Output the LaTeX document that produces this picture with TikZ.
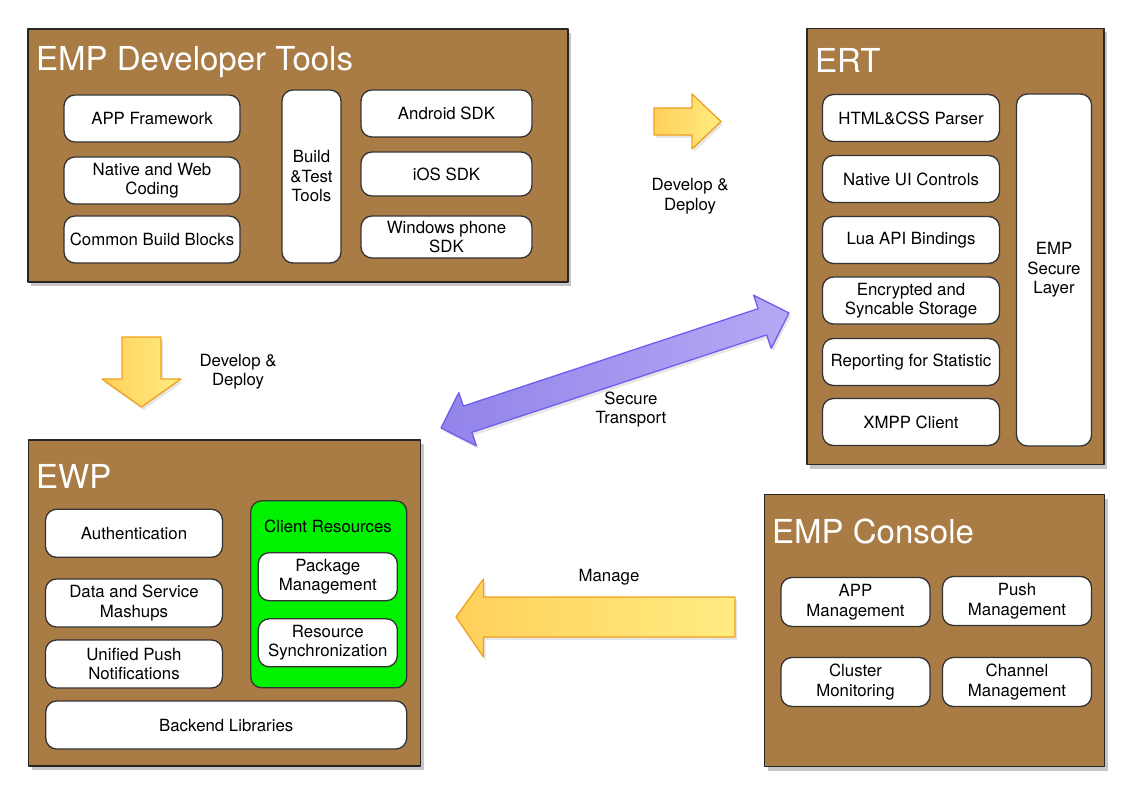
\documentclass[tikz,border=0pt]{standalone}
\usepackage{fontspec}
\setmainfont{TeX Gyre Heros}
\usepackage{tikz}
\usepackage{xcolor}
\usetikzlibrary{shadows}
\definecolor{panelbrown}{RGB}{169,123,69}
\definecolor{clientgreen}{RGB}{0,242,0}
\definecolor{arroworange}{RGB}{240,160,32}
\definecolor{arrowdeep}{RGB}{255,208,90}
\definecolor{arrowpale}{RGB}{255,236,130}
\definecolor{transportline}{RGB}{110,94,240}
\definecolor{transportdeep}{RGB}{146,132,234}
\definecolor{transportpale}{RGB}{182,168,244}
\begin{document}
\begin{tikzpicture}[line cap=round,line join=round,x=1pt,y=-1pt,
        panel/.style={draw=black!85,line width=1.6pt,fill=panelbrown,drop shadow={shadow xshift=3pt,shadow yshift=-4pt,opacity=0.45}},
        item/.style={draw=black!80,line width=1.3pt,fill=white,rounded corners=11pt,align=center,inner sep=2pt,font=\fontsize{16.8}{19.5}\selectfont},
        title/.style={anchor=base west,text=white,inner sep=0pt,font=\fontsize{33}{38}\selectfont},
        caption/.style={align=center,inner sep=0pt,font=\fontsize{16.8}{19.5}\selectfont},
        yellowarrow/.style={draw=arroworange,line width=1.3pt,left color=arrowdeep,right color=arrowpale,drop shadow={shadow xshift=2pt,shadow yshift=-3pt,opacity=0.2}},
        purplearrow/.style={draw=transportline,line width=1.3pt,left color=transportdeep,right color=transportpale,drop shadow={shadow xshift=2pt,shadow yshift=-3pt,opacity=0.2}}]
                \useasboundingbox (0,0) rectangle (1131,799);
                \node[panel,minimum width=540pt,minimum height=253pt] (devtools) at (298,155.5) {};
                \node[title] (devtoolstitle) at (36,71) {EMP Developer Tools};
                \node[item,minimum width=176pt,minimum height=47pt] (appfw) at (152,118.5) {APP Framework};
                \node[item,minimum width=176pt,minimum height=47pt] (nativeweb) at (152,180.5) {Native and Web\\Coding};
                \node[item,minimum width=176pt,minimum height=47pt] (buildblocks) at (152,239.5) {Common Build Blocks};
                \node[item,minimum width=59pt,minimum height=173pt] (buildtest) at (311.5,176.5) {Build\\\&Test\\Tools};
                \node[item,minimum width=171pt,minimum height=47pt] (android) at (446.5,113.5) {Android SDK};
                \node[item,minimum width=171pt,minimum height=44pt] (ios) at (446.5,174) {iOS SDK};
                \node[item,minimum width=171pt,minimum height=42pt] (winphone) at (446.5,237) {Windows phone\\SDK};
                \node[panel,minimum width=297pt,minimum height=436pt] (ert) at (955.5,246.5) {};
                \node[title] (erttitle) at (815,72.5) {ERT};
                \node[item,minimum width=177pt,minimum height=47pt] (htmlcss) at (911,118) {HTML\&CSS Parser};
                \node[item,minimum width=177pt,minimum height=47pt] (nativeui) at (911,179) {Native UI Controls};
                \node[item,minimum width=177pt,minimum height=47pt] (luaapi) at (911,240) {Lua API Bindings};
                \node[item,minimum width=177pt,minimum height=47pt] (storage) at (911,300.5) {Encrypted and\\Syncable Storage};
                \node[item,minimum width=177pt,minimum height=47pt] (reporting) at (911,362) {Reporting for Statistic};
                \node[item,minimum width=177pt,minimum height=47pt] (xmpp) at (911,422) {XMPP Client};
                \node[item,minimum width=75pt,minimum height=352pt] (securelayer) at (1054,270) {EMP\\Secure\\Layer};
                \node[panel,minimum width=392pt,minimum height=326pt] (ewp) at (224.5,603) {};
                \node[title] (ewptitle) at (36,488) {EWP};
                \node[item,minimum width=177pt,minimum height=48pt] (auth) at (134,533.3) {Authentication};
                \node[item,minimum width=177pt,minimum height=48pt] (mashups) at (134,603) {Data and Service\\Mashups};
                \node[item,minimum width=177pt,minimum height=48pt] (pushnotify) at (134,664) {Unified Push\\Notifications};
                \node[item,fill=clientgreen,minimum width=156pt,minimum height=187pt] (clientres) at (328.7,594.3) {};
                \node[caption] (clientrestitle) at (328,526.5) {Client Resources};
                \node[item,minimum width=139pt,minimum height=48pt] (package) at (327.8,576.7) {Package\\Management};
                \node[item,minimum width=139pt,minimum height=48pt] (resync) at (327.8,642.8) {Resource\\Synchronization};
                \node[item,minimum width=361pt,minimum height=48pt] (backend) at (226.2,725) {Backend Libraries};
                \node[panel,minimum width=340pt,minimum height=272pt] (console) at (934.5,630.5) {};
                \node[title] (consoletitle) at (772,543.5) {EMP Console};
                \node[item,minimum width=149pt,minimum height=49pt] (appmgmt) at (855.5,602) {APP\\Management};
                \node[item,minimum width=149pt,minimum height=49pt] (pushmgmt) at (1017,601) {Push\\Management};
                \node[item,minimum width=149pt,minimum height=49pt] (cluster) at (855.5,682) {Cluster\\Monitoring};
                \node[item,minimum width=149pt,minimum height=49pt] (channel) at (1017,682) {Channel\\Management};
                \draw[yellowarrow] (654,108)-- (692,108)-- (692,94)-- (721,121.5)-- (692,149)-- (692,135)-- (654,135)-- cycle;
                \draw[yellowarrow] (122,337)-- (161,337)-- (161,379)-- (181,379)-- (141.5,407)-- (102,379)-- (122,379)-- cycle;
                \draw[yellowarrow] (735,597)-- (483.5,597)-- (483.5,579)-- (456,617)-- (483.5,657)-- (483.5,637)-- (735,637)-- cycle;
                \draw[purplearrow] (789,313)-- (771.2,348.4)-- (766.7,334.9)-- (471.9,432.3)-- (476.4,445.8)-- (441,428)-- (458.8,392.6)-- (463.3,406.1)-- (758.1,308.7)-- (753.6,295.2)-- cycle;
                \node[caption] (deploytop) at (690,196) {Develop \&\\Deploy};
                \node[caption] (deployleft) at (238,371.5) {Develop \&\\Deploy};
                \node[caption] (transport) at (631,409.5) {Secure\\Transport};
                \node[caption] (manage) at (609,577) {Manage};
\end{tikzpicture}
\end{document}
